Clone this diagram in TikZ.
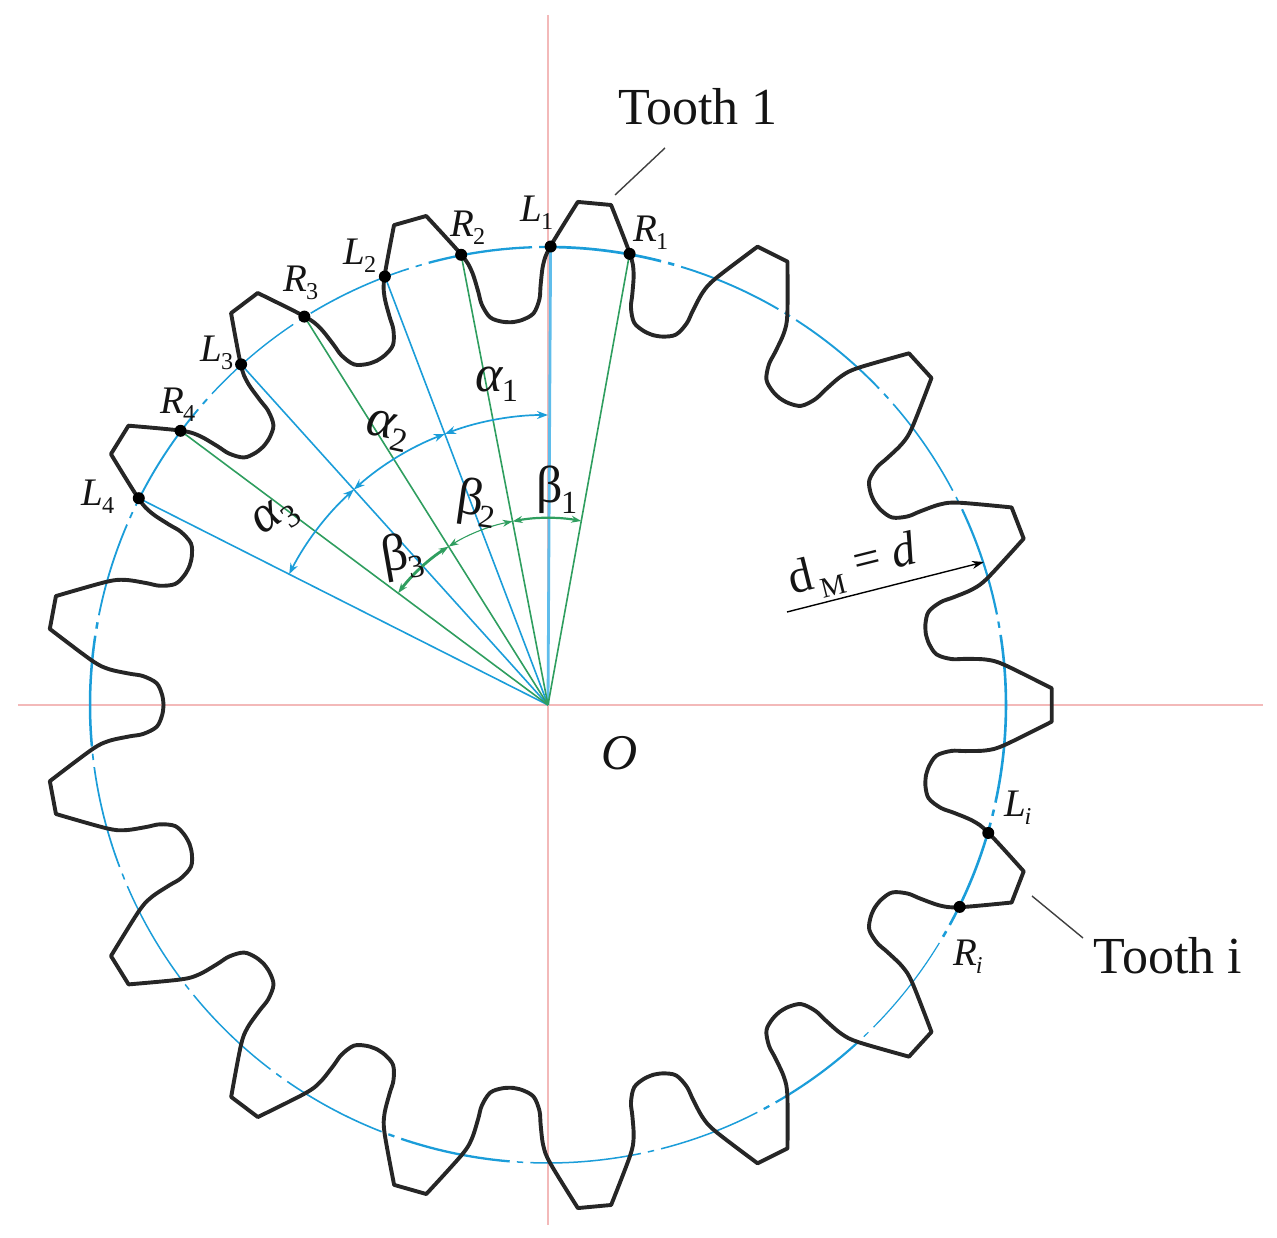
\documentclass[tikz,border=0pt]{standalone}
\usepackage{fontspec}
\setmainfont{Liberation Serif}
\usetikzlibrary{arrows.meta}
\definecolor{axispink}{HTML}{F3B9B9}
\definecolor{pitchblue}{HTML}{1B9DD9}
\definecolor{paleblue}{HTML}{5FBDEB}
\definecolor{radgreen}{HTML}{2F9E5F}
\definecolor{geardark}{HTML}{262626}
\newcommand\symb[3][39]{{\fontsize{#1}{#1}\selectfont\textit{#2}\kern-0.04em\raisebox{-0.2em}{\scalebox{0.62}{#3}}}}
\newcommand\symbup[3][52]{{\fontsize{#1}{#1}\selectfont #2\kern-0.04em\raisebox{-0.2em}{\scalebox{0.62}{#3}}}}
\tikzset{
  x=1pt,y=1pt,
  axisline/.style={axispink,line width=1.3pt},
  gearline/.style={geardark,line width=3.9pt,line cap=round,line join=round},
  pitchline/.style={pitchblue,line cap=butt},
  blueray/.style={pitchblue,line width=1.6pt},
  greenray/.style={radgreen,line width=1.6pt},
  pointdot/.style={circle,fill=black,inner sep=0pt,minimum size=12pt},
  angblue/.style={pitchblue,line width=1.7pt,{Stealth[length=11pt,width=8pt]}-{Stealth[length=11pt,width=8pt]}},
  anggreen/.style={radgreen,{Stealth[length=10pt,width=7pt]}-{Stealth[length=10pt,width=7pt]}},
  leaderline/.style={black!75,line width=1.4pt},
  lab/.style={inner sep=0pt,text=black!92},
}
\begin{document}
\begin{tikzpicture}
\useasboundingbox (-548,705) rectangle (729,-533);
\coordinate (C) at (0,0);
% axes
\coordinate (axW) at (-530,0); \coordinate (axE) at (715,0);
\coordinate (axN) at (0,690); \coordinate (axS) at (0,-520);
\draw[axisline] (axW) -- (axE);
\draw[axisline] (axN) -- (axS);
% pitch circle (dash-dot): end-angle/width, clockwise from the top
\foreach \d/\w [remember=\d as \p (initially -0.7)] in
 {15.6/2.7,31.5/1.9,47.6/1.9,63.4/1.6,79.9/2.2,103.6/2.6,120/2.6,136/1.2,151.5/2.2,167/1.5,183.5/1.5,
  200/2.3,216/1.6,232/1.5,248/1.5,263.5/1.7,280/2.5,294.5/1.8,311.5/1.9,327.5/1.4,343.6/1.6,359.3/2.3}{
  \draw[pitchline,line width=\w pt] (90-\p-1.3:458) arc[start angle=90-\p-1.3,end angle=90-\d+1.3,radius=458pt];
  \draw[pitchline,line width=\w pt] (90-\d+0.4:458) arc[start angle=90-\d+0.4,end angle=90-\d-0.4,radius=458pt];
}
% points on the pitch circle
\foreach \n/\t in {L1/0.33,R1/10.25,L2/-20.84,R2/-10.92,L3/-42.02,R3/-32.10,L4/-63.19,R4/-53.27,Li/106.21,Ri/116.13}{
  \coordinate (\n) at (90-\t:458.5);
}
% radial lines
\draw[paleblue,line width=2.8pt] (C) -- (L1);
\foreach \n in {L2,L3,L4} \draw[blueray] (C) -- (\n);
\foreach \n in {R1,R2,R3,R4} \draw[greenray] (C) -- (\n);
% angle arcs
\draw[angblue] (90:290) arc[start angle=90,end angle=110.84,radius=290pt];
\draw[angblue] (110.84:290) arc[start angle=110.84,end angle=132,radius=290pt];
\draw[angblue] (132:290) arc[start angle=132,end angle=153.19,radius=290pt];
\draw[anggreen,line width=2.2pt] (79.75:187) arc[start angle=79.75,end angle=100.92,radius=187pt];
\draw[anggreen,line width=1.1pt] (100.92:187) arc[start angle=100.92,end angle=122.1,radius=187pt];
\draw[anggreen,line width=2.8pt] (122.1:187) arc[start angle=122.1,end angle=143.27,radius=187pt];
% gear: 17 teeth
\foreach \k in {0,...,16}{
  \pgfmathsetmacro\a{90-5.294-21.176*\k}
  \draw[gearline,rotate=\a]
    plot[smooth,tension=.55] coordinates {(-10.59:384.5) (-9.1:386) (-7.4:392) (-6.5:406) (-6.3:420) (-5.9:441) (-5:458.5) (-1.9:504)}
    -- plot[smooth,tension=.55] coordinates {(1.9:504) (5:458.5) (5.9:441) (6.3:420) (6.5:406) (7.4:392) (9.1:386) (10.59:384.5)};
}
% dots
\foreach \n in {L1,R1,L2,R2,L3,R3,L4,R4,Li,Ri} \node[pointdot] (d\n) at (\n) {};
% labels at picture positions
\begin{scope}[shift={(-548,705)}]
\node[lab] (tL1) at (537,-213) {\symb{L}{1}};
\node[lab] (tR1) at (651,-233) {\symb{R}{1}};
\node[lab] (tL2) at (360,-256) {\symb{L}{2}};
\node[lab] (tR2) at (468,-228) {\symb{R}{2}};
\node[lab] (tL3) at (217,-353) {\symb{L}{3}};
\node[lab] (tR3) at (301,-283) {\symb{R}{3}};
\node[lab] (tL4) at (98,-497) {\symb{L}{4}};
\node[lab] (tR4) at (178,-405) {\symb{R}{4}};
\node[lab] (tLi) at (1018,-808) {\symb{L}{\textit{i}}};
\node[lab] (tRi) at (968,-957) {\symb{R}{\textit{i}}};
\node[lab] (tO) at (620,-753) {\fontsize{50}{50}\selectfont\textit{O}};
\node[lab] (ta1) at (497,-384) {\symb[52]{α}{1}};
\node[lab,rotate=-12] (ta2) at (387,-431) {\symb[54]{α}{2}};
\node[lab,rotate=35] (ta3) at (276,-518) {\symb[52]{α}{3}};
\node[lab] (tb1) at (557,-490) {\symbup{β}{1}};
\node[lab,rotate=-8] (tb2) at (477,-503) {\symbup{β}{2}};
\node[lab,rotate=10] (tb3) at (402,-556) {\symbup{β}{3}};
\node[lab] (tT1) at (698,-107) {\fontsize{52}{52}\selectfont Tooth 1};
\node[lab] (tTi) at (1168,-956) {\fontsize{52}{52}\selectfont Tooth i};
\node[lab,rotate=14] (tdm) at (853,-568) {\fontsize{48}{48}\selectfont d\kern0.1em\raisebox{-0.25em}{\scalebox{0.6}{M}} = \textit{d}};
\coordinate (t1a) at (665,-148); \coordinate (t1b) at (615,-195);
\coordinate (tia) at (1032,-896); \coordinate (tib) at (1083,-938);
\coordinate (dma) at (787,-612); \coordinate (dmb) at (984,-562);
\end{scope}
\draw[leaderline] (t1a) -- (t1b);
\draw[leaderline] (tia) -- (tib);
\draw[leaderline,black,-{Stealth[length=12pt,width=8pt]}] (dma) -- (dmb);
\end{tikzpicture}
\end{document}
